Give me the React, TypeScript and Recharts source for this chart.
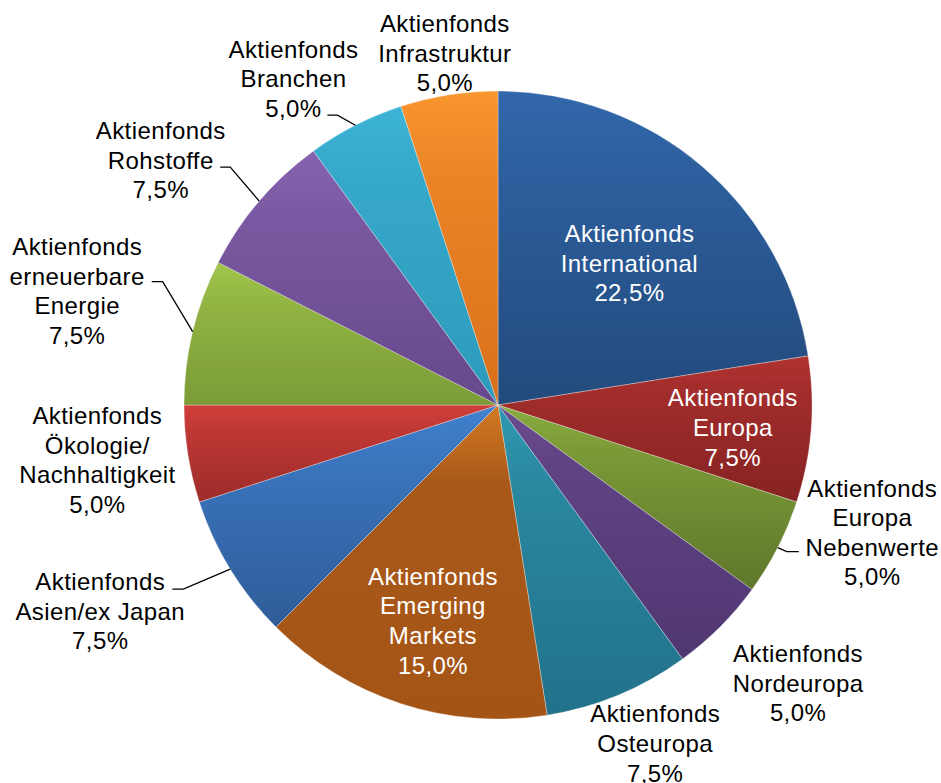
import React from "react"
import { PieChart, Pie, Cell } from "recharts"

// fund categories, clockwise from 12 o'clock ("\n" = line break in the label)
const CATEGORIES = [
  "Aktienfonds\nInternational",
  "Aktienfonds\nEuropa",
  "Aktienfonds\nEuropa\nNebenwerte",
  "Aktienfonds\nNordeuropa",
  "Aktienfonds\nOsteuropa",
  "Aktienfonds\nEmerging\nMarkets",
  "Aktienfonds\nAsien/ex Japan",
  "Aktienfonds\nÖkologie/\nNachhaltigkeit",
  "Aktienfonds\nerneuerbare\nEnergie",
  "Aktienfonds\nRohstoffe",
  "Aktienfonds\nBranchen",
  "Aktienfonds\nInfrastruktur",
]

const SHARES = [22.5, 7.5, 5, 5, 7.5, 15, 7.5, 5, 7.5, 7.5, 5, 5]

// gradient stops (top -> bottom) per slice
const COLORS = [
  ["#3168ab", "#2d5f9e", "#234a7c"],
  ["#b03330", "#a22d2c", "#852322"],
  ["#8aac3f", "#7b9a37", "#5f772b"],
  ["#6c4c90", "#604384", "#4f3771"],
  ["#3099b3", "#2a88a1", "#22718a"],
  ["#d27a24", "#a95818", "#a45516"],
  ["#4081cf", "#3a75bd", "#2f5c98"],
  ["#d03f3b", "#c03835", "#9c2c2a"],
  ["#a2c64c", "#94b644", "#7b9b37"],
  ["#8663b0", "#7b59a2", "#66488b"],
  ["#3cb3d6", "#36a8ca", "#2d9aba"],
  ["#f8962f", "#ec8526", "#d8701c"],
]

// label placement: inside -> radius factor + nudge, outside -> offset from rim point, optional leader
const LABEL_LAYOUT: any[] = [
  { inside: true, r: 0.615, dx: 6, dy: 5 },
  { inside: true, r: 0.75, dx: 0, dy: 4 },
  { dx: 94.5, dy: -15, leader: [[9, 4], [21, 4]] },
  { dx: 78, dy: 56 },
  { dx: 37, dy: 48.5 },
  { inside: true, r: 0.717, dx: 4.5, dy: 1.5 },
  { dx: -130, dy: 42, leader: [[-47, 20], [-58, 20]] },
  { dx: -90.5, dy: 6 },
  { dx: -115.5, dy: -40.5, leader: [[-30, -50], [-41, -50]] },
  { dx: -98.5, dy: -41, leader: [[-29, -34], [-39, -34]] },
  { dx: -62, dy: -46.5, leader: [[-18, -10], [-28, -10]] },
  { dx: -4, dy: -41.5 },
]

const data = CATEGORIES.map((name, i) => ({ name, value: SHARES[i] }))

const RADIAN = Math.PI / 180
const LINE_H = 29.6

const fmt = (v: number) => `${v.toFixed(1).replace(".", ",")}%`

const renderLabel = ({ cx, cy, midAngle, outerRadius, index, name, value }: any) => {
  const layout = LABEL_LAYOUT[index]
  const cos = Math.cos(-midAngle * RADIAN)
  const sin = Math.sin(-midAngle * RADIAN)
  let bx: number
  let by: number
  const ex = cx + outerRadius * cos
  const ey = cy + outerRadius * sin
  if (layout.inside) {
    bx = cx + outerRadius * layout.r * cos + layout.dx
    by = cy + outerRadius * layout.r * sin + layout.dy
  } else {
    bx = ex + layout.dx
    by = ey + layout.dy
  }
  const lines = [...String(name).split("\n"), fmt(value)]
  const top = by - ((lines.length - 1) * LINE_H) / 2
  return (
    <g key={`lbl-${index}`}>
      {layout.leader && (
        <polyline
          points={[[0, 0], ...layout.leader].map(([x, y]: number[]) => `${ex + x},${ey + y}`).join(" ")}
          fill="none"
          stroke="#000"
          strokeWidth={1.3}
        />
      )}
      <text
        x={bx}
        y={top}
        textAnchor="middle"
        fill={layout.inside ? "#fff" : "#000"}
        fontSize={24}
        letterSpacing={0.4}
        fontFamily="'Liberation Sans', Arial, sans-serif"
      >
        {lines.map((l, i) => (
          <tspan key={i} x={bx} y={top + i * LINE_H} dominantBaseline="central">
            {l}
          </tspan>
        ))}
      </text>
    </g>
  )
}

export default function App() {
  return (
    <div style={{ position: "absolute", left: 0, top: 0, width: 941, height: 783, background: "#fff" }}>
      <style>{`.recharts-pie-sectors { filter: drop-shadow(2px 3px 3px rgba(0,0,0,0.3)); }`}</style>
      <PieChart width={941} height={783} margin={{ top: 0, right: 0, bottom: 0, left: 0 }}>
        <defs>
          {COLORS.map(([a, m, b], i) => (
            <linearGradient key={i} id={`grad-${i}`} x1="0" y1="0" x2="0" y2="1">
              <stop offset="0%" stopColor={a} />
              <stop offset="25%" stopColor={m} />
              <stop offset="100%" stopColor={b} />
            </linearGradient>
          ))}
        </defs>
        <Pie
          data={data}
          dataKey="value"
          nameKey="name"
          cx={498}
          cy={405}
          outerRadius={314}
          startAngle={90}
          endAngle={-270}
          stroke="#ffffff"
          strokeWidth={0.6}
          strokeOpacity={0.5}
          labelLine={false}
          label={renderLabel}
          isAnimationActive={false}
        >
          {data.map((_, i) => (
            <Cell key={`cell-${i}`} fill={`url(#grad-${i})`} />
          ))}
        </Pie>
      </PieChart>
    </div>
  )
}
